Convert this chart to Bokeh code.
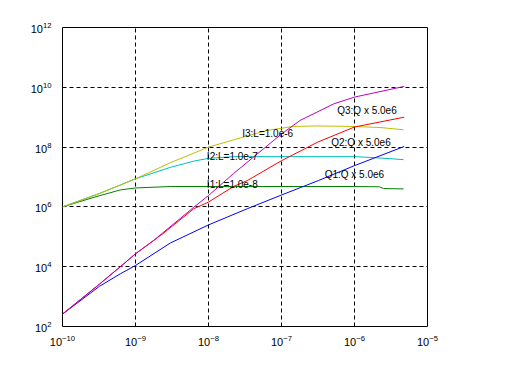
from bokeh.plotting import figure
from bokeh.models import Range1d, FixedTicker
from bokeh.core.properties import value
from bokeh.embed import file_html
from bokeh.resources import INLINE

# ---- tick positions (exponents of 10) ----
x_tick_exps = [-10, -9, -8, -7, -6, -5]
y_tick_exps = [2, 4, 6, 8, 10, 12]

# ---- curves ----
i1_x = [1e-10, 2.7e-10, 6.2e-10, 1.0e-9, 3.0e-9, 1.0e-8, 1.0e-7, 1.0e-6, 2.2e-6, 2.5e-6, 4.7e-6]
i1_y = [1.0e6, 2.1e6, 3.7e6, 4.3e6, 4.8e6, 4.8e6, 4.8e6, 4.8e6, 4.7e6, 4.1e6, 4.0e6]

i2_x = [1e-10, 3.2e-10, 1.0e-9, 3.0e-9, 6.3e-9, 1.0e-8, 2.2e-8, 1.0e-7, 1.0e-6, 2.3e-6, 4.7e-6]
i2_y = [1.0e6, 2.8e6, 8.7e6, 2.1e7, 3.4e7, 4.2e7, 4.8e7, 4.8e7, 4.8e7, 4.3e7, 3.8e7]

i3_x = [1e-10, 3.2e-10, 1.0e-9, 3.0e-9, 1.0e-8, 2.2e-8, 6.3e-8, 1.45e-7, 3.0e-7, 1.0e-6, 2.3e-6, 4.7e-6]
i3_y = [1.0e6, 2.8e6, 8.7e6, 3.0e7, 1.0e8, 1.74e8, 3.6e8, 4.9e8, 5.1e8, 4.9e8, 4.5e8, 3.8e8]

q3_x = [1e-10, 3.2e-10, 6.2e-10, 1.0e-9, 1.78e-9, 6.3e-9, 1.0e-8, 2.2e-8, 1.0e-7, 1.8e-7, 5.2e-7, 1.0e-6, 4.8e-6]
q3_y = [2.6e2, 2.6e3, 1.0e4, 2.7e4, 7.6e4, 9.8e5, 2.4e6, 1.3e7, 2.75e8, 7.8e8, 2.8e9, 4.7e9, 1.07e10]

q2_x = [1e-10, 3.2e-10, 6.2e-10, 1.0e-9, 1.78e-9, 2.4e-9, 6.3e-9, 1.0e-8, 2.2e-8, 3.4e-8, 1.0e-7, 3.1e-7, 1.0e-6, 4.8e-6]
q2_y = [2.6e2, 2.6e3, 1.0e4, 2.7e4, 7.6e4, 1.3e5, 8.7e5, 1.45e6, 4.8e6, 7.6e6, 3.5e7, 1.45e8, 4.7e8, 1.0e9]

q1_x = [1e-10, 3.2e-10, 6.2e-10, 1.0e-9, 3.0e-9, 1.0e-8, 3.4e-8, 1.0e-7, 3.2e-7, 1.0e-6, 4.8e-6]
q1_y = [2.6e2, 2.2e3, 5.8e3, 1.1e4, 6.2e4, 2.5e5, 8.7e5, 2.5e6, 7.6e6, 2.4e7, 1.05e8]

# ---- curve labels ----
label_text = ["Q3:Q x 5.0e6", "Q2:Q x 5.0e6", "Q1:Q x 5.0e6",
              "I3:L=1.0e-6", "I2:L=1.0e-7", "I1:L=1.0e-8"]
label_x = [5.8e-7, 4.8e-7, 3.9e-7, 2.9e-8, 9.5e-9, 9.5e-9]
label_y = [1.65e9, 1.4e8, 1.17e7, 2.75e8, 4.9e7, 5.6e6]

FONT = "Liberation Sans"

p = figure(width=500, height=360, x_axis_type="log", y_axis_type="log",
           x_range=Range1d(1e-10, 1e-5), y_range=Range1d(1e2, 1e12),
           output_backend="svg", toolbar_location=None,
           min_border_left=62, min_border_right=73,
           min_border_top=27, min_border_bottom=34)
p.background_fill_color = "white"
p.border_fill_color = "white"
p.outline_line_color = "black"
p.outline_line_width = 1

xt = [10.0 ** e for e in x_tick_exps]
yt = [10.0 ** e for e in y_tick_exps]
p.xaxis.ticker = FixedTicker(ticks=xt)
p.yaxis.ticker = FixedTicker(ticks=yt)
p.xgrid.ticker = FixedTicker(ticks=xt[1:-1])
p.ygrid.ticker = FixedTicker(ticks=yt[1:-1])
for ax in (p.xaxis, p.yaxis):
    ax.axis_line_color = None
    ax.major_tick_line_color = None
    ax.minor_tick_line_color = None
    ax.major_label_text_font = FONT
    ax.major_label_text_font_size = "11px"
    ax.major_label_text_color = "black"
p.xaxis.major_label_standoff = 2
p.yaxis.major_label_standoff = 5

for g in (p.xgrid, p.ygrid):
    g.grid_line_color = "black"
    g.grid_line_dash = "4 3"
    g.grid_line_width = 1
    g.grid_line_alpha = 1.0

curves = [
    (i1_x, i1_y, "#008000"),
    (i2_x, i2_y, "#00BFBF"),
    (i3_x, i3_y, "#BFBF00"),
    (q1_x, q1_y, "#0000FF"),
    (q2_x, q2_y, "#FF0000"),
    (q3_x, q3_y, "#BF00BF"),
]
for xs, ys, c in curves:
    p.line(xs, ys, line_color=c, line_width=1)

p.text(x=label_x, y=label_y, text=label_text, text_align="left",
       text_baseline="middle", text_font=value(FONT), text_font_size="10px",
       text_color="black")

open("out.html", "w").write(file_html(p, INLINE))
